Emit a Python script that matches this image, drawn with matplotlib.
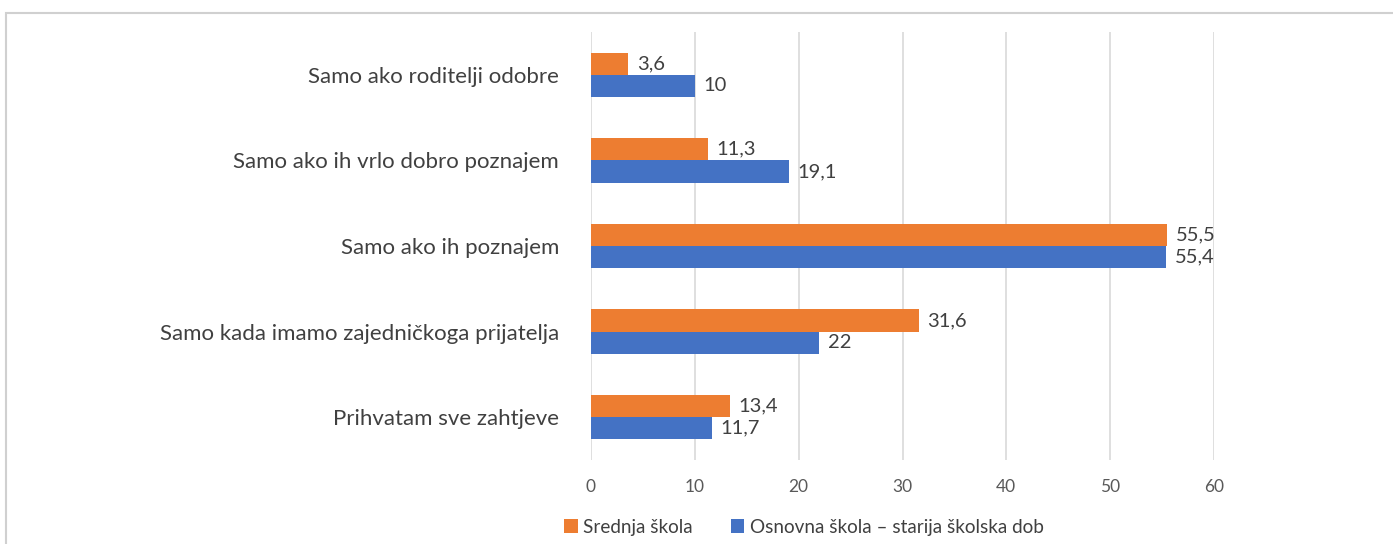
import numpy as np
import matplotlib.pyplot as plt
from matplotlib.patches import Rectangle

categories = ["Prihvatam sve zahtjeve",
              "Samo kada imamo zajedničkoga prijatelja",
              "Samo ako ih poznajem",
              "Samo ako ih vrlo dobro poznajem",
              "Samo ako roditelji odobre"]
srednja = [13.4, 31.6, 55.5, 11.3, 3.6]
osnovna = [11.7, 22, 55.4, 19.1, 10]
series_names = ["Srednja škola", "Osnovna škola – starija školska dob"]

plt.rcParams['font.family'] = ['Lato', 'DejaVu Sans']

fig = plt.figure(figsize=(13.93, 5.44), dpi=100)
ax = fig.add_axes([591/1393, 1 - 460/544, 623/1393, 428/544])

y = np.arange(len(categories))
h = 0.26
b1 = ax.barh(y + h/2, srednja, height=h, color="#ED7D31", label=series_names[0], zorder=3)
b2 = ax.barh(y - h/2, osnovna, height=h, color="#4472C4", label=series_names[1], zorder=3)

def fmt(v):
    return ("%g" % v).replace(".", ",")

for bars, vals in [(b1, srednja), (b2, osnovna)]:
    for rect, v in zip(bars, vals):
        ax.annotate(fmt(v), (v, rect.get_y() + rect.get_height()/2),
                    xytext=(6, 0), textcoords="offset points",
                    va="center", ha="left", fontsize=14.5, color="#404040")

ax.set_xlim(0, 60)
ax.set_ylim(-0.5, 4.5)
ax.set_xticks(range(0, 61, 10))
ax.set_yticks(y)
ax.set_yticklabels(categories, fontsize=16, color="#404040")
ax.tick_params(axis="x", labelsize=12.5, colors="#595959", length=0, pad=14)
ax.tick_params(axis="y", length=0, pad=23)
ax.grid(axis="x", color="#d9d9d9", linewidth=1.2, zorder=0)
for s in ax.spines.values():
    s.set_visible(False)

leg = fig.legend(loc="center", bbox_to_anchor=(804/1393, 1 - 527/544), ncol=2,
                 frameon=False, fontsize=13.6, handlelength=0.7, handleheight=0.7,
                 handletextpad=0.3, columnspacing=2.0)
for t in leg.get_texts():
    t.set_color("#404040")

fig.patches.append(Rectangle((6/1393, -0.01), 1.2, 1 - 13/544 + 0.01,
                             transform=fig.transFigure, fill=False,
                             edgecolor="#d0d0d0", linewidth=1.5))

fig.savefig("out.png", dpi=100)
